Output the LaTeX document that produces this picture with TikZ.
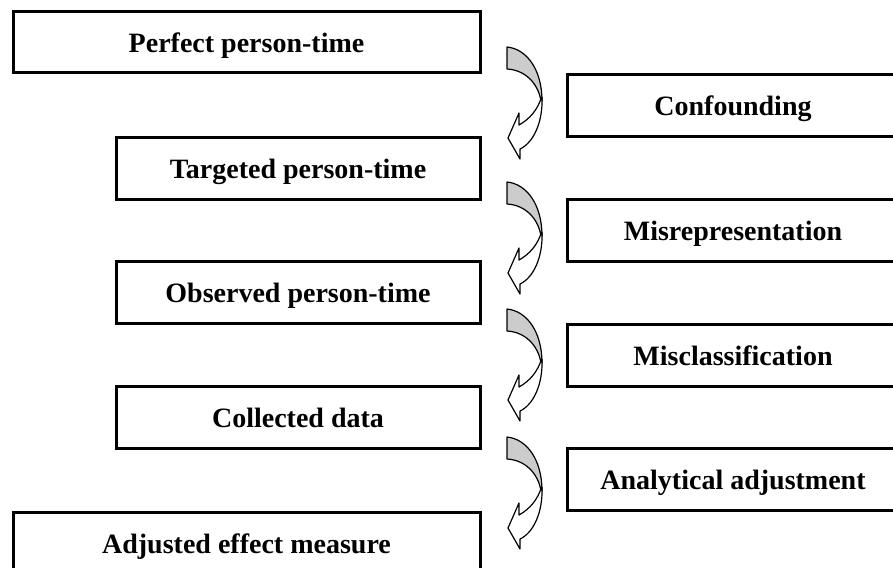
\documentclass[tikz,border=0pt]{standalone}
\usepackage{fontspec}
\setmainfont{Liberation Serif}
\definecolor{backgray}{RGB}{204,204,204}
\tikzset{
  box/.style={draw=black, line width=1.5pt, fill=white, inner sep=0pt,
    text height=10pt, text depth=0pt,
    font=\fontsize{14}{16}\selectfont\bfseries, text=black},
  leftwide/.style={box, minimum width=233.5pt, minimum height=30.5pt},
  leftbox/.style={box, minimum width=182pt, minimum height=31pt},
  rightbox/.style={box, minimum width=166pt, minimum height=31pt},
  arrowline/.style={draw=black, line width=0.6pt, line join=round},
  pics/bendarrow/.style={code={
    \path[arrowline, fill=backgray] (0,0) .. controls (20,2) and (35,23) .. (35,54)
      -- (34,54) .. controls (31,36) and (18,23) .. (0,22) -- cycle;
    \path[arrowline, fill=white] (35,50) .. controls (36,76) and (26,96) .. (13,102)
      -- (13,112) -- (1,91) -- (12,66) -- (12,78)
      .. controls (23,72) and (31,62) .. (34.5,50) -- cycle;
  }}
}
\begin{document}
\begin{tikzpicture}[x=0.5pt, y=-0.5pt]
\useasboundingbox (0,0) rectangle (893,567);
\clip (0,0) rectangle (893,567);
\node[leftwide] (perfect) at (246.5,42.5) {Perfect person-time};
\node[rightbox] (confounding) at (733,105.5) {Confounding};
\node[leftbox] (targeted) at (298,168) {Targeted person-time};
\node[rightbox] (misrep) at (733,230) {Misrepresentation};
\node[leftbox] (observed) at (298,292) {Observed person-time};
\node[rightbox] (misclass) at (733,355) {Misclassification};
\node[leftbox] (collected) at (298,417) {Collected data};
\node[rightbox] (analytical) at (733,479) {Analytical adjustment};
\node[leftwide, minimum height=31pt] (adjusted) at (246.5,543) {Adjusted effect measure};
\pic at (507,47) {bendarrow};
\pic at (507,182) {bendarrow};
\pic at (507,309) {bendarrow};
\pic at (507,437) {bendarrow};
\end{tikzpicture}
\end{document}
